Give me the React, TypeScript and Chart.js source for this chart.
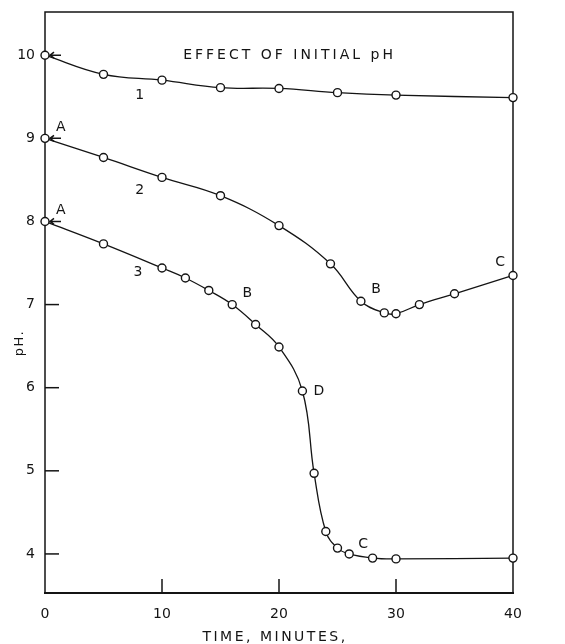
import React, { useEffect, useRef } from 'react';
import { Chart, registerables } from 'chart.js';

Chart.register(...registerables);

// Curve 1 (initial pH 10)
const time1 = [0, 5, 10, 15, 20, 25, 30, 40];
const ph1 = [10.0, 9.77, 9.7, 9.61, 9.6, 9.55, 9.52, 9.49];
// Curve 2 (initial pH 9)
const time2 = [0, 5, 10, 15, 20, 24.4, 27, 29, 30, 32, 35, 40];
const ph2 = [9.0, 8.77, 8.53, 8.31, 7.95, 7.49, 7.04, 6.9, 6.89, 7.0, 7.13, 7.35];
// Curve 3 (initial pH 8)
const time3 = [0, 5, 10, 12, 14, 16, 18, 20, 22, 23, 24, 25, 26, 28, 30, 40];
const ph3 = [8.0, 7.73, 7.44, 7.32, 7.17, 7.0, 6.76, 6.49, 5.96, 4.97, 4.27, 4.07, 4.0, 3.95, 3.94, 3.95];

const xTicks = [0, 10, 20, 30, 40];
const yTicks = [4, 5, 6, 7, 8, 9, 10];
const arrowTicks = [8, 9, 10];

// Annotations (text and position in data units)
const noteText = ['EFFECT OF INITIAL pH', '1', '2', '3', 'A', 'A', 'B', 'B', 'C', 'D', 'C'];
const noteX = [20.9, 8.1, 8.1, 7.95, 1.35, 1.35, 17.3, 28.3, 38.9, 23.4, 27.2];
const noteY = [10.0, 9.52, 8.37, 7.39, 9.13, 8.13, 7.14, 7.18, 7.51, 5.96, 4.11];

const xTitle = 'TIME, MINUTES,';
const yTitle = 'pH.';

const INK = '#141414';
const FONT = "'DejaVu Sans', sans-serif";

const toPoints = (xs: number[], ys: number[]) => xs.map((x, i) => ({ x, y: ys[i] }));

const decor = {
  id: 'decor',
  beforeDraw(chart: any) {
    chart.ctx.letterSpacing = '0px';
  },
  beforeDatasetsDraw(chart: any) {
    const { ctx, chartArea: a, scales } = chart;
    const x = scales.x;
    const y = scales.y;
    ctx.save();
    ctx.strokeStyle = INK;
    ctx.lineWidth = 1.5;
    ctx.beginPath();
    ctx.moveTo(a.left, a.bottom);
    ctx.lineTo(a.left, a.top);
    ctx.lineTo(a.right, a.top);
    ctx.lineTo(a.right, a.bottom);
    ctx.stroke();
    ctx.lineWidth = 2.2;
    ctx.beginPath();
    ctx.moveTo(a.left - 1, a.bottom);
    ctx.lineTo(a.right + 1, a.bottom);
    ctx.stroke();
    ctx.lineWidth = 1.5;
    for (const v of yTicks) {
      const py = y.getPixelForValue(v);
      ctx.beginPath();
      if (arrowTicks.includes(v)) {
        ctx.moveTo(a.left + 5, py);
        ctx.lineTo(a.left + 16, py);
        ctx.moveTo(a.left + 9, py - 3);
        ctx.lineTo(a.left + 5, py);
        ctx.lineTo(a.left + 9, py + 3);
      } else {
        ctx.moveTo(a.left, py);
        ctx.lineTo(a.left + 14, py);
      }
      ctx.stroke();
    }
    for (const v of xTicks) {
      if (v <= x.min || v >= x.max) continue;
      const px = x.getPixelForValue(v);
      ctx.beginPath();
      ctx.moveTo(px, a.bottom);
      ctx.lineTo(px, a.bottom - 14);
      ctx.stroke();
    }
    ctx.restore();
  },
  afterDraw(chart: any) {
    const { ctx, scales } = chart;
    const x = scales.x;
    const y = scales.y;
    ctx.save();
    ctx.fillStyle = INK;
    ctx.textAlign = 'center';
    ctx.textBaseline = 'middle';
    ctx.font = `14px ${FONT}`;
    noteText.forEach((t, i) => {
      ctx.letterSpacing = i === 0 ? '3px' : '0px';
      ctx.fillText(t, x.getPixelForValue(noteX[i]), y.getPixelForValue(noteY[i]));
    });
    ctx.letterSpacing = '2.5px';
    ctx.fillText(xTitle, 275, 637);
    ctx.letterSpacing = '1.5px';
    ctx.font = `13px ${FONT}`;
    ctx.translate(20, 343);
    ctx.rotate(-Math.PI / 2);
    ctx.fillText(yTitle, 0, 0);
    ctx.restore();
  },
};

export default function App() {
  const ref = useRef<HTMLCanvasElement | null>(null);
  useEffect(() => {
    if (!ref.current) return;
    const common = {
      borderColor: INK,
      borderWidth: 1.3,
      pointRadius: 4,
      pointBorderWidth: 1.4,
      pointBackgroundColor: '#ffffff',
      pointBorderColor: INK,
      tension: 0.4,
      clip: false as any,
      showLine: true,
    };
    const chart = new Chart(ref.current, {
      type: 'scatter',
      data: {
        datasets: [
          { label: '1', data: toPoints(time1, ph1), ...common },
          { label: '2', data: toPoints(time2, ph2), ...common },
          { label: '3', data: toPoints(time3, ph3), ...common },
        ],
      },
      options: {
        responsive: false,
        animation: false,
        layout: { padding: { left: 0, right: 52, top: 12, bottom: 0 } },
        plugins: { legend: { display: false }, tooltip: { enabled: false }, title: { display: false } },
        scales: {
          x: {
            type: 'linear',
            min: 0,
            max: 40,
            grid: { display: false, drawTicks: false },
            border: { display: false },
            afterBuildTicks: (s: any) => { s.ticks = xTicks.map((v) => ({ value: v })); },
            afterFit: (s: any) => { s.height = 51; s.paddingLeft = 0; s.paddingRight = 0; },
            ticks: { color: INK, padding: 13, font: { family: FONT, size: 14 }, maxRotation: 0 },
          },
          y: {
            type: 'linear',
            min: 3.53,
            max: 10.52,
            grid: { display: false, drawTicks: false },
            border: { display: false },
            afterBuildTicks: (s: any) => { s.ticks = yTicks.map((v) => ({ value: v })); },
            afterFit: (s: any) => { s.width = 45; s.paddingTop = 0; s.paddingBottom = 0; },
            ticks: { color: INK, padding: 10, font: { family: FONT, size: 14 } },
          },
        },
      },
      plugins: [decor],
    });
    return () => chart.destroy();
  }, []);
  return (
    <div style={{ position: 'fixed', left: 0, top: 0, width: 565, height: 644, background: '#fff' }}>
      <canvas ref={ref} width={565} height={644} />
    </div>
  );
}
